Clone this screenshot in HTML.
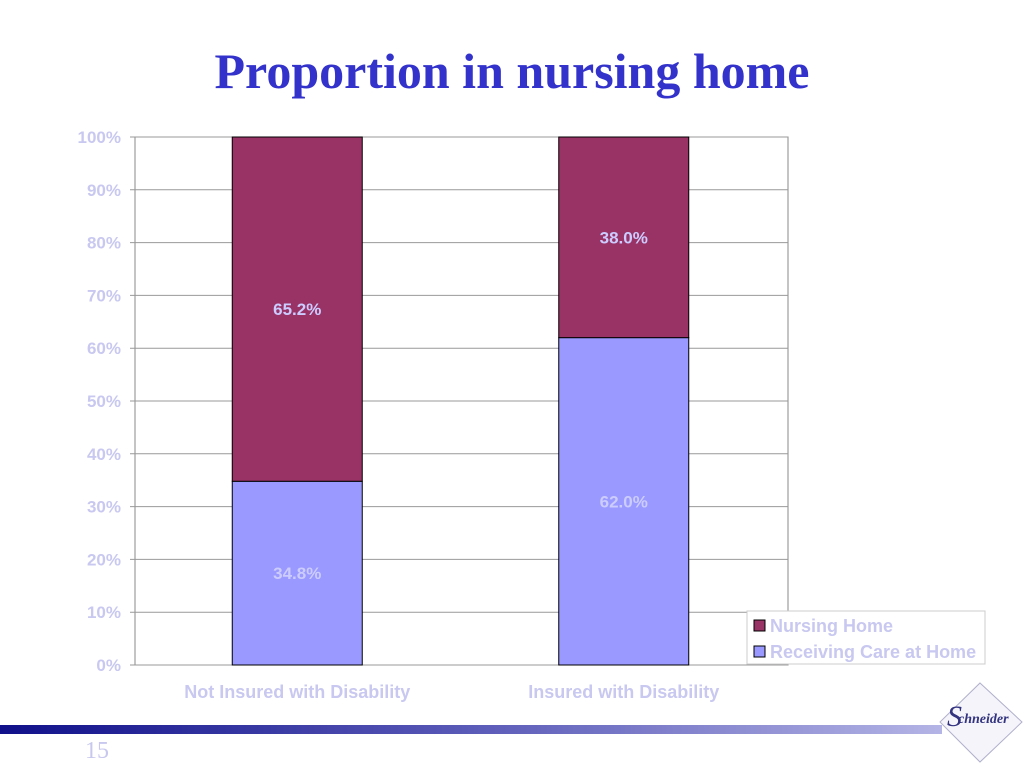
<!DOCTYPE html>
<html><head><meta charset="utf-8"><style>
body{margin:0;width:1024px;height:768px;background:#fff;overflow:hidden;font-family:"Liberation Sans",sans-serif}
</style></head><body>
<svg id="c" width="1024" height="768" xmlns="http://www.w3.org/2000/svg">
<defs><linearGradient id="g" x1="0" x2="1"><stop offset="0" stop-color="#10108a"/><stop offset="0.5" stop-color="#5a5ab8"/><stop offset="1" stop-color="#b4b4e6"/></linearGradient></defs>
<text x="512" y="88" text-anchor="middle" font-family="Liberation Serif,serif" font-weight="bold" font-size="50" fill="#3333cc">Proportion in nursing home</text>
<rect x="0" y="725" width="942" height="9" fill="url(#g)"/>
<text x="85" y="758" font-family="Liberation Serif,serif" font-size="24" fill="#c8c8ee">15</text>
<g>
<polygon points="980,683 1022,722 980,762 940,722" fill="#f4f4fa" stroke="#b0b0cc"/>
<text x="958" y="723" font-family="Liberation Serif,serif" font-style="italic" font-weight="bold" font-size="14" fill="#333380">chneider</text>
<text x="947" y="726" font-family="Liberation Serif,serif" font-style="italic" font-size="30" fill="#333380">S</text>
</g>
<g id="plot"></g>
</svg>
<script>
const categories=["Not Insured with Disability","Insured with Disability"];
const careAtHome=[34.8,62.0];
const nursingHome=[65.2,38.0];
const yTicks=[0,10,20,30,40,50,60,70,80,90,100];
const svg=document.getElementById('plot');
const NS="http://www.w3.org/2000/svg";
const x0=135,x1=788,y0=665,y1=137;
const y=v=>y0-(v/100)*(y0-y1);
const band=(x1-x0)/categories.length;
function el(t,a,txt){const e=document.createElementNS(NS,t);for(const k in a)e.setAttribute(k,a[k]);if(txt!=null)e.textContent=txt;svg.appendChild(e);return e;}
const frame=el('rect',{x:x0,y:y1,width:x1-x0,height:y0-y1,fill:'none',stroke:'#888'});


yTicks.forEach(t=>{
 const l=el('line',{x1:x0-5,x2:x1,y1:y(t),y2:y(t),stroke:'#999','stroke-width':1});
 
 
 const tx=el('text',{x:x0-14,y:y(t)+6,'text-anchor':'end','font-size':17,'font-weight':'bold',fill:'#c8c8f0'},t+'%');
 
 
});
const bw=130;
categories.forEach((c,i)=>{
 const cx=x0+band*(i+0.5)-1;
 const bx=cx-bw/2;
 const a=el('rect',{x:bx,y:y(careAtHome[i]),width:bw,height:y(0)-y(careAtHome[i]),fill:'#9999ff',stroke:'#000'});
 
 
 const b=el('rect',{x:bx,y:y(careAtHome[i]+nursingHome[i]),width:bw,height:y(careAtHome[i])-y(careAtHome[i]+nursingHome[i]),fill:'#993366',stroke:'#000'});
 
 
 const la=el('text',{x:cx,y:y(careAtHome[i]/2)+6,'text-anchor':'middle','font-size':17,'font-weight':'bold',fill:'#ccccff'},careAtHome[i].toFixed(1)+'%');
 
 
 const lb=el('text',{x:cx,y:y(careAtHome[i]+nursingHome[i]/2)+6,'text-anchor':'middle','font-size':17,'font-weight':'bold',fill:'#ccccff'},nursingHome[i].toFixed(1)+'%');
 
 
 const xl=el('text',{x:cx,y:698,'text-anchor':'middle','font-size':18,'font-weight':'bold',fill:'#c8c8f0'},c);
 
 
});
const lg=el('rect',{x:747,y:611,width:238,height:53,fill:'#fff',stroke:'#ccc'});


[['Nursing Home','#993366',626],['Receiving Care at Home','#9999ff',652]].forEach(([n,col,yy])=>{
 const s=el('rect',{x:754,y:yy-6,width:11,height:11,fill:col,stroke:'#000'});
 
 
 const t=el('text',{x:770,y:yy+6,'font-size':18,'font-weight':'bold',fill:'#c8c8f0'},n);
 
 
});
</script>
</body></html>
